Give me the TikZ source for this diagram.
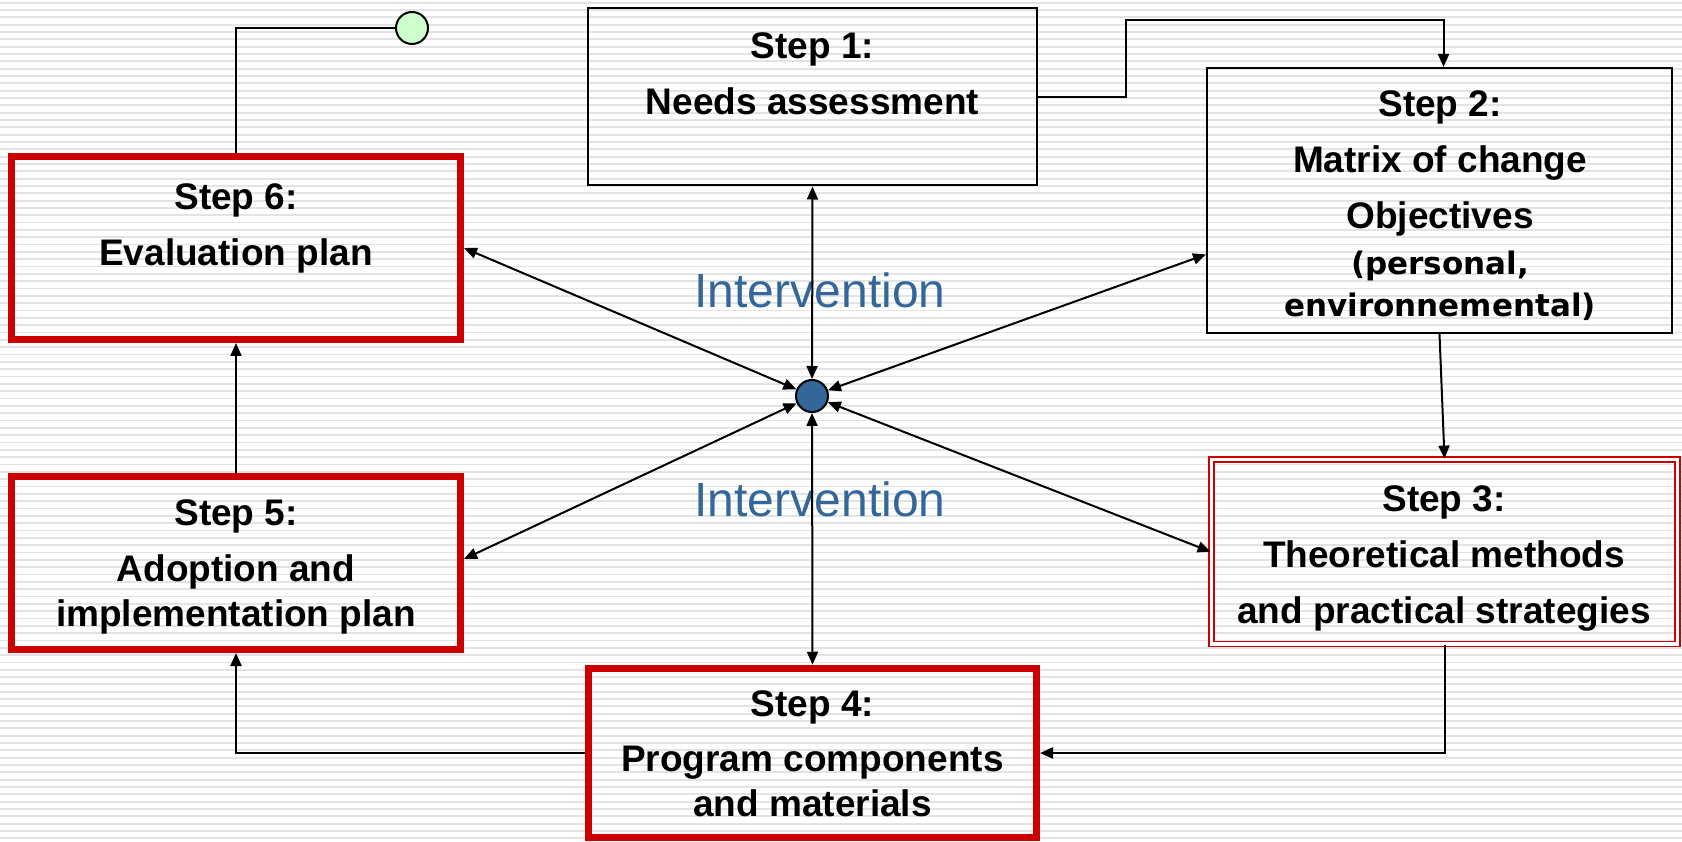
\documentclass[tikz,border=0pt]{standalone}
\usepackage{fontspec}
\setmainfont{Liberation Sans}
\newfontfamily\widefont{DejaVu Sans}
\usepackage{tikz}
\usetikzlibrary{arrows.meta,positioning}
\definecolor{figred}{HTML}{CC0000}
\definecolor{figblue}{HTML}{336699}
\definecolor{figgreen}{HTML}{CCFFCC}
\definecolor{figstripe}{HTML}{E3E3E3}
\newcommand\widesmall{\widefont\bfseries\fontsize{31}{45}\selectfont}

\begin{document}
\begin{tikzpicture}[x=1pt,y=-1pt,line width=2pt,
  steptip/.tip={Triangle[length=13pt,width=11pt]},
  flow/.style={-steptip},
  both/.style={steptip-steptip},
  plainbox/.style={draw=black,line width=2pt},
  redbox/.style={draw=figred,line width=7pt},
  dblbox/.style={draw=figred,line width=1.8pt,double=white,double distance=3.2pt},
  steptext/.style={anchor=north,align=center,inner sep=0pt,font=\bfseries\fontsize{37}{45}\selectfont},
  hubtext/.style={anchor=base,inner sep=0pt,text=figblue,font=\fontsize{48}{58}\selectfont},
  dot/.style={circle,draw=black,line width=2pt,minimum size=32pt,inner sep=0pt}]
\useasboundingbox (0,0) rectangle (1682,842);
\fill[white] (0,0) rectangle (1682,842);
\foreach \i in {0,...,114}
  \draw[figstripe,line width=1.8pt] (0,2.7+7.33*\i) -- (1682,2.7+7.33*\i);

\node[plainbox,minimum width=449pt,minimum height=177pt] (s1) at (812.5,97) {};
\node[plainbox,minimum width=465pt,minimum height=265pt] (s2) at (1439.5,200.5) {};
\node[dblbox,minimum width=466pt,minimum height=184.5pt] (s3) at (1444.5,551.75) {};
\node[redbox,minimum width=448pt,minimum height=169.5pt] (s4) at (812.5,753) {};
\node[redbox,minimum width=449pt,minimum height=173pt] (s5) at (236,563) {};
\node[redbox,minimum width=449pt,minimum height=183pt] (s6) at (236,248) {};

\node[steptext] (t1) at (812.5,32) {Step 1:\\[11pt]Needs assessment};
\node[steptext] (t2) at (1440,90) {Step 2:\\[11pt]Matrix of change\\[11pt]Objectives\\[1pt]\widesmall (personal,\\[-3pt]\widesmall environnemental)};
\node[steptext] (t3) at (1444,485) {Step 3:\\[11pt]Theoretical methods\\[11pt]and practical strategies};
\node[steptext] (t4) at (812.5,690) {Step 4:\\[10pt]Program components\\and materials};
\node[steptext] (t5) at (236,499) {Step 5:\\[11pt]Adoption and\\implementation plan};
\node[steptext] (t6) at (236,183) {Step 6:\\[11pt]Evaluation plan};

\node[hubtext] (i1) at (820,308) {Intervention};
\node[hubtext] (i2) at (820,516) {Intervention};

\node[dot,fill=figblue] (hub) at (812,396) {};
\node[dot,fill=figgreen] (gdot) at (412,28) {};

\draw[flow] (s1.east) -- ++(88,0) |- ([xshift=4pt,yshift=47pt]s2.north) -- ([xshift=4pt]s2.north);
\draw[flow] (s2.south) -- (s3.north);
\draw[flow] (s3.south) |- (s4.east);
\draw[flow] (s4.west) -| (s5.south);
\draw[flow] (s5.north) -- (s6.south);
\draw (s6.north) |- (gdot);
\foreach \tgt in {s1.south,s4.north,s6.east,s5.1,s2.193,s3.west}
  \draw[both] (hub) -- (\tgt);
\end{tikzpicture}
\end{document}
